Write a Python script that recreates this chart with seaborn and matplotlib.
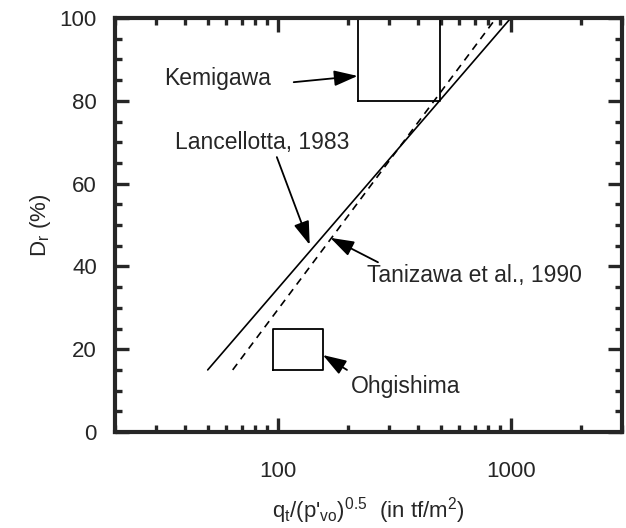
import numpy as np
import pandas as pd
import seaborn as sns
import matplotlib
matplotlib.use('Agg')
import matplotlib.pyplot as plt
from matplotlib.ticker import FixedLocator, FixedFormatter, NullFormatter, MultipleLocator

# correlation lines (x = qt/sqrt(p'vo), y = Dr %)
lanc_x = [50, 1000]
lanc_y = [15, 100]
tani_x = [64, 865]
tani_y = [15, 100]

# site boxes: x range, y range
kemi_x = [220, 495]
kemi_y = [80, 100]
ohgi_x = [95, 157]
ohgi_y = [15, 25]

# annotations: label, arrow tip, text position, arrow tail
notes = [
    ('Kemigawa', (220, 86), (55, 85.5), (117, 84.5)),
    ('Lancellotta, 1983', (137, 45.2), (86, 70), (99, 66.4)),
    ('Tanizawa et al., 1990', (168, 46.9), (700, 37.9), (269, 41)),
    ('Ohgishima', (156, 18.6), (353, 10.9), (198, 15)),
]

xticks = [100, 1000]
xticklabels = ['100', '1000']
yticks = [0, 20, 40, 60, 80, 100]

sns.set_style('ticks')
plt.rcParams['font.family'] = ['Liberation Sans', 'DejaVu Sans']
plt.rcParams['mathtext.fontset'] = 'custom'
plt.rcParams['mathtext.rm'] = 'Liberation Sans'
plt.rcParams['mathtext.it'] = 'Liberation Sans:italic'

fig = plt.figure(figsize=(6.26, 5.28), dpi=100)
ax = fig.add_axes([0.1837, 0.1818, 0.8099, 0.7841])


def box(xr, yr):
    return pd.DataFrame({'x': [xr[0], xr[1], xr[1], xr[0], xr[0]],
                         'y': [yr[0], yr[0], yr[1], yr[1], yr[0]]})


sns.lineplot(x=lanc_x, y=lanc_y, ax=ax, color='black', lw=1.2)
sns.lineplot(x=tani_x, y=tani_y, ax=ax, color='black', lw=1.2,
             linestyle=(0, (4.5, 3.5)))
for xr, yr in [(kemi_x, kemi_y), (ohgi_x, ohgi_y)]:
    d = box(xr, yr)
    sns.lineplot(data=d, x='x', y='y', ax=ax, sort=False, estimator=None,
                 color='black', lw=1.3)

for label, tip, txt, tail in notes:
    ax.text(txt[0], txt[1], label, ha='center', va='center', fontsize=16.5)
    ax.annotate('', xy=tip, xytext=tail,
                arrowprops=dict(arrowstyle='-|>,head_length=0.9,head_width=0.3',
                                color='black', lw=1.3, mutation_scale=16,
                                shrinkA=0, shrinkB=0))

ax.set_xscale('log')
ax.set_xlim(20, 3000)
ax.set_ylim(0, 100)
ax.xaxis.set_major_locator(FixedLocator(xticks))
ax.xaxis.set_major_formatter(FixedFormatter(xticklabels))
ax.xaxis.set_minor_formatter(NullFormatter())
ax.set_yticks(yticks)
ax.yaxis.set_minor_locator(MultipleLocator(5))

ax.tick_params(which='both', direction='in', top=True, right=True,
               width=2.4, labelsize=16)
ax.tick_params(which='major', length=10)
ax.tick_params(which='minor', length=5)
ax.tick_params(axis='x', which='both', pad=21)
ax.tick_params(axis='y', which='both', pad=13)
for s in ax.spines.values():
    s.set_linewidth(3)

ax.set_xlabel(r"q$_\mathregular{t}$/(p'$_\mathregular{vo}$)$\mathregular{^{0.5}}$  (in tf/m$\mathregular{^2}$)",
              fontsize=16, labelpad=9)
ax.set_ylabel(r'D$_\mathregular{r}$ (%)', fontsize=16, labelpad=5)

fig.savefig('out.png', dpi=100)
